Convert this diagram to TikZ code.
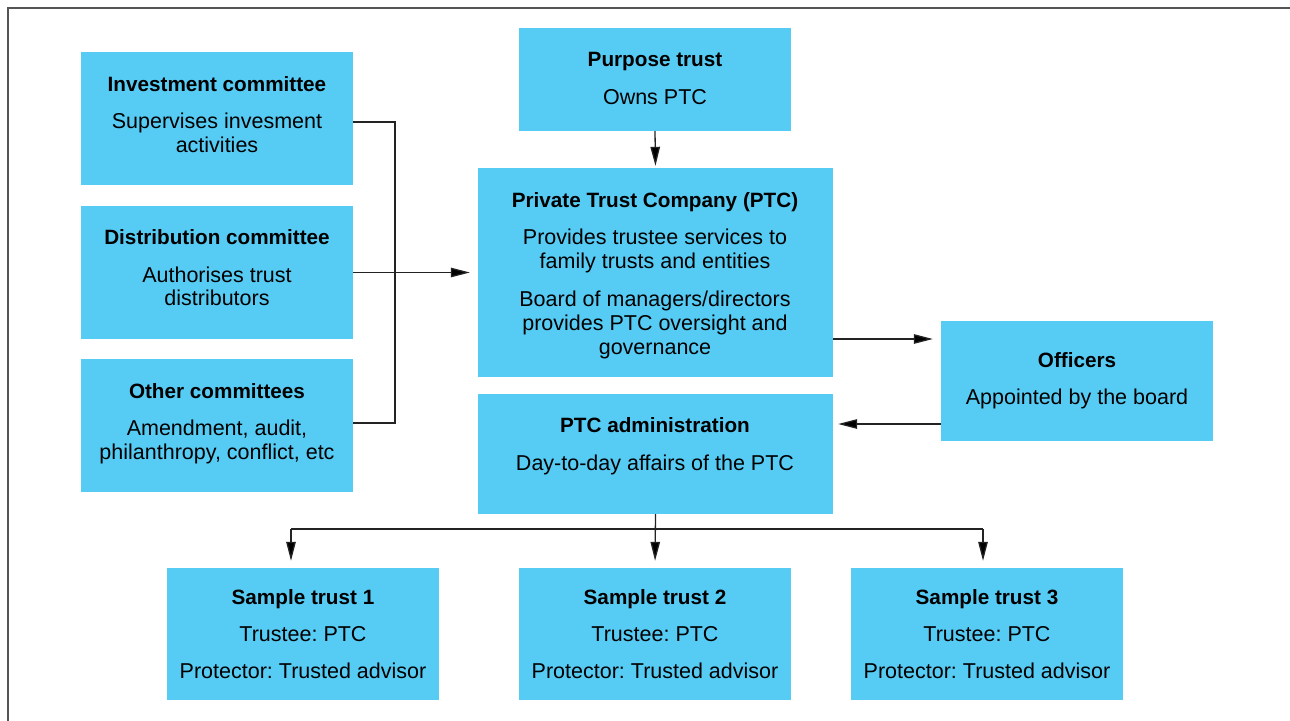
\documentclass[tikz,border=0pt]{standalone}
\usepackage{fontspec}
\setmainfont{Liberation Sans}
\usetikzlibrary{arrows.meta}
\frenchspacing
\definecolor{boxblue}{RGB}{86,204,245}
\definecolor{linegray}{RGB}{35,35,35}
\definecolor{framegray}{RGB}{85,85,85}
\tikzset{
  box/.style={fill=boxblue, draw=none, inner sep=0pt},
  smallbox/.style={box, minimum width=272pt},
  ttl/.style={font=\fontsize{20.7}{24}\selectfont\bfseries, anchor=base, inner sep=0pt},
  txt/.style={font=\fontsize{21.5}{24}\selectfont, anchor=base, inner sep=0pt},
  link/.style={draw=linegray, line width=1.3pt},
  arr/.style={link, -{Triangle[length=19pt,width=9.5pt,fill=black]}}
}
\begin{document}
\begin{tikzpicture}[x=1pt,y=-1pt]
\useasboundingbox (0,0) rectangle (1290,720);
% outer frame (left and top edges)
\draw[framegray, line width=1.6pt] (8,721) -- (8,8) -- (1291,8);

% boxes
\node[smallbox, minimum height=133pt] (inv) at (217,118.5) {};
\node[smallbox, minimum height=133pt] (dis) at (217,272.5) {};
\node[smallbox, minimum height=133pt] (oth) at (217,425.5) {};
\node[smallbox, minimum height=103pt] (pur) at (655,79.5) {};
\node[box, minimum width=355pt, minimum height=209pt] (ptc) at (655.5,272.5) {};
\node[box, minimum width=355pt, minimum height=120pt] (adm) at (655.5,454) {};
\node[smallbox, minimum height=120pt] (off) at (1077,381) {};
\node[smallbox, minimum height=132pt] (s1) at (303,634) {};
\node[smallbox, minimum height=132pt] (s2) at (655,634) {};
\node[smallbox, minimum height=132pt] (s3) at (987,634) {};

% texts (positions are baselines)
\node[ttl] (invT) at (217,91) {Investment committee};
\node[txt] (invA) at (217,128.5) {Supervises invesment};
\node[txt] (invB) at (217,152.5) {activities};

\node[ttl] (disT) at (217,244) {Distribution committee};
\node[txt] (disA) at (217,282) {Authorises trust};
\node[txt] (disB) at (217,305.5) {distributors};

\node[ttl] (othT) at (217,398) {Other committees};
\node[txt] (othA) at (217,435) {Amendment, audit,};
\node[txt] (othB) at (217,459) {philanthropy, conflict, etc};

\node[ttl] (purT) at (655,66) {Purpose trust};
\node[txt] (purA) at (655,104) {Owns PTC};

\node[ttl] (ptcT) at (655,207) {Private Trust Company (PTC)};
\node[txt] (ptcA) at (655,244) {Provides trustee services to};
\node[txt] (ptcB) at (655,268) {family trusts and entities};
\node[txt] (ptcC) at (655,306) {Board of managers/directors};
\node[txt] (ptcD) at (655,330) {provides PTC oversight and};
\node[txt] (ptcE) at (655,354) {governance};

\node[ttl] (admT) at (655,432) {PTC administration};
\node[txt] (admA) at (655,470) {Day-to-day affairs of the PTC};

\node[ttl] (offT) at (1077,367) {Officers};
\node[txt] (offA) at (1077,404) {Appointed by the board};

\node[ttl] (s1T) at (303,604) {Sample trust 1};
\node[txt] (s1A) at (303,641) {Trustee: PTC};
\node[txt] (s1B) at (303,678) {Protector: Trusted advisor};

\node[ttl] (s2T) at (655,604) {Sample trust 2};
\node[txt] (s2A) at (655,641) {Trustee: PTC};
\node[txt] (s2B) at (655,678) {Protector: Trusted advisor};

\node[ttl] (s3T) at (987,604) {Sample trust 3};
\node[txt] (s3A) at (987,641) {Trustee: PTC};
\node[txt] (s3B) at (987,678) {Protector: Trusted advisor};

% committees feed into the PTC
\coordinate (top) at (0,122);
\coordinate (bot) at (0,423);
\coordinate (jn) at (395,272.5);
\draw[link] (inv.east |- top) -| (jn) |- (oth.east |- bot);
\draw[arr, shorten >=8pt] (dis.east) -- (ptc.west);

% ownership
\draw[arr, shorten >=2pt] (pur.south) -- (ptc.north);

% board appoints officers, officers run administration
\coordinate (toOff) at (0,339);
\coordinate (toAdm) at (0,424);
\draw[arr, shorten >=8pt] (ptc.east |- toOff) -- (off.west |- toOff);
\draw[arr, shorten >=5pt] (off.west |- toAdm) -- (adm.east |- toAdm);

% administration serves the sample trusts
\coordinate (b1) at (291,529);
\coordinate (b3) at (983,529);
\draw[link] (adm.south) -- (adm.south |- b1);
\draw[link] (b1) -- (b3);
\draw[arr, shorten >=7pt] (b1) -- (b1 |- s1.north);
\draw[arr, shorten >=7pt] (adm.south) -- (s2.north);
\draw[arr, shorten >=7pt] (b3) -- (b3 |- s3.north);
\end{tikzpicture}
\end{document}
